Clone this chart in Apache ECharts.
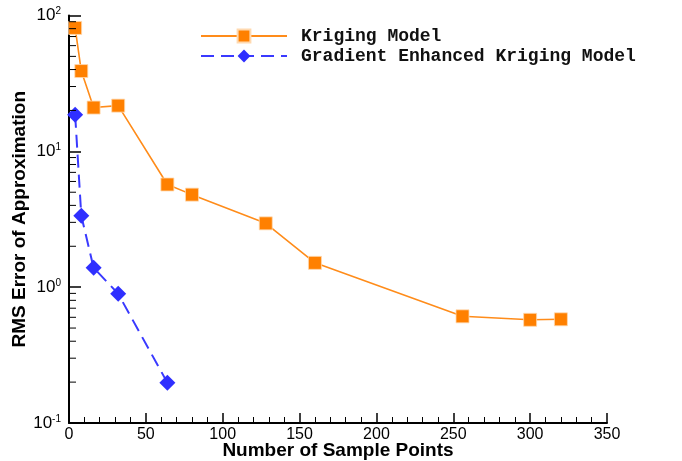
<!DOCTYPE html>
<html>
<head>
<meta charset="utf-8">
<script src="https://cdn.jsdelivr.net/npm/echarts@6/dist/echarts.min.js"></script>
<style>html,body{margin:0;padding:0;background:#fff;}#c{width:682px;height:461px;}</style>
</head>
<body>
<div id="c"></div>
<script>
const samplePoints = [4, 8, 16, 32, 64, 80, 128, 160, 256, 300, 320];
const krigingRMS = [81, 39, 21, 21.7, 5.7, 4.8, 2.95, 1.51, 0.61, 0.575, 0.58];
const gekPoints = [4, 8, 16, 32, 64];
const gekRMS = [18.6, 3.36, 1.39, 0.894, 0.198];
const seriesNames = ['Kriging Model', 'Gradient Enhanced Kriging Model'];
const xTicks = [0, 50, 100, 150, 200, 250, 300, 350];
const yDecades = [0.1, 1, 10, 100];
const yMinorTicks = [];
for (let d = 0; d < 3; d++) for (let m = 2; m <= 9; m++) yMinorTicks.push(m * yDecades[d]);

const chart = echarts.init(document.getElementById('c'));
chart.setOption({
  backgroundColor: '#fff',
  animation: false,
  grid: { left: 69, right: 75, top: 15.5, bottom: 38, containLabel: false, outerBoundsMode: 'none' },
  legend: {
    data: seriesNames,
    orient: 'vertical',
    left: 195, top: 22,
    itemWidth: 86, itemHeight: 16, itemGap: 2,
    textStyle: { fontFamily: 'Liberation Mono', fontWeight: 'bold', fontSize: 18, color: '#111', padding: [0, 0, 0, 9] }
  },
  xAxis: {
    type: 'value', min: 0, max: 350, interval: 50,
    axisLine: { show: true, onZero: false, lineStyle: { color: '#000', width: 2 } },
    axisTick: { show: true, inside: true, length: 10, lineStyle: { color: '#000', width: 1.5 } },
    minorTick: { show: true, splitNumber: 5, length: 6, lineStyle: { color: '#000', width: 1 } },
    splitLine: { show: false },
    axisLabel: { fontFamily: 'Liberation Sans', fontSize: 16, color: '#000', margin: 4,
      formatter: v => xTicks.includes(v) ? String(v) : '' },
    name: 'Number of Sample Points', nameLocation: 'middle', nameGap: 18, nameMoveOverlap: false,
    nameTextStyle: { fontFamily: 'Liberation Sans', fontWeight: 'bold', fontSize: 19, color: '#000' }
  },
  yAxis: {
    type: 'log', logBase: 10, min: 0.1, max: 100,
    axisLine: { show: true, lineStyle: { color: '#000', width: 2 } },
    axisTick: { show: true, inside: true, length: 12, lineStyle: { color: '#000', width: 1.5 } },
    splitLine: { show: false },
    axisLabel: {
      margin: 8,
      formatter: v => '{b|10}{s|' + Math.round(Math.log10(v)) + '}',
      rich: {
        b: { fontFamily: 'Liberation Sans', fontSize: 17, color: '#000' },
        s: { fontFamily: 'Liberation Sans', fontSize: 10, color: '#000', verticalAlign: 'top', padding: [0, 0, 8, 0] }
      }
    },
    name: 'RMS Error of Approximation', nameLocation: 'middle', nameGap: 40, nameMoveOverlap: false,
    nameTextStyle: { fontFamily: 'Liberation Sans', fontWeight: 'bold', fontSize: 19, color: '#000' }
  },
  series: [
    {
      name: seriesNames[0], type: 'line',
      data: samplePoints.map((x, i) => [x, krigingRMS[i]]),
      symbol: 'rect', symbolSize: 13,
      itemStyle: { color: '#FF8000', borderColor: '#FFD9B0', borderWidth: 0.8 },
      lineStyle: { color: '#FF8C1A', width: 1.6 },
      z: 3
    },
    {
      name: seriesNames[1], type: 'line',
      data: gekPoints.map((x, i) => [x, gekRMS[i]]),
      symbol: 'diamond', symbolSize: [16, 16],
      itemStyle: { color: '#2F2FFF' },
      lineStyle: { color: '#3A3AFF', width: 2, type: [13, 7] },
      z: 3
    },
    {
      name: 'minor', type: 'custom', silent: true, clip: false,
      data: yMinorTicks.map(v => [0, v]),
      encode: { x: 0, y: 1 },
      renderItem: (params, api) => {
        const p = api.coord([0, api.value(1)]);
        return { type: 'line', shape: { x1: p[0], y1: p[1], x2: p[0] + 7, y2: p[1] },
          style: { stroke: '#000', lineWidth: 1 } };
      },
      z: 5
    }
  ]
});
</script>
</body>
</html>
